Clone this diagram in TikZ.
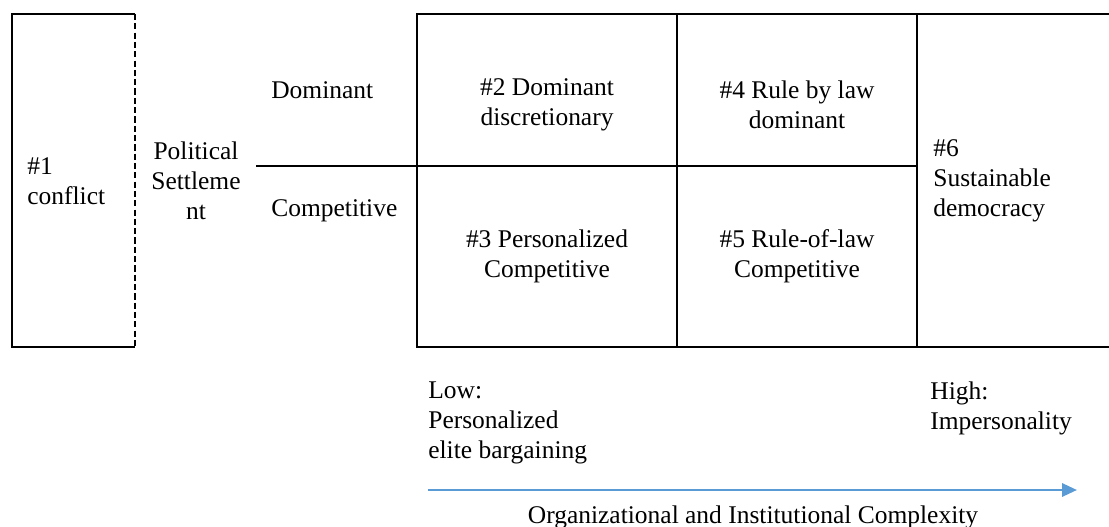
\documentclass[tikz,border=0pt]{standalone}
\usepackage{fontspec}
\setmainfont{Liberation Serif}
\usepackage{xcolor}
\usepackage{tikz}
\usetikzlibrary{arrows.meta,positioning}

\definecolor{axisblue}{RGB}{91,155,213}

\begin{document}
\begin{tikzpicture}[x=0.02cm,y=-0.02cm,line join=miter,
  font=\fontsize{14.5}{17}\selectfont,
  gridline/.style={black,line width=1.1pt},
  cell/.style={inner sep=0pt,align=center},
  lbl/.style={inner sep=0pt,align=left,anchor=west}]

  \useasboundingbox (0,0) rectangle (1109,527);

  %% ---------------------------------------------------------------
  %% conflict box, dashed on its open side
  %% ---------------------------------------------------------------
  \draw[gridline] (135,14) -- (12,14) -- (12,347) -- (135,347);
  \draw[gridline,dash pattern=on 3.5pt off 1.8pt] (135,14) -- (135,347);
  \node[lbl] (conflict) at (27,181) {\#1\\conflict};

  %% ---------------------------------------------------------------
  %% settlement split into dominant / competitive
  %% ---------------------------------------------------------------
  \node[cell] (settle) at (196,181) {Political\\Settleme\\nt};
  \node[lbl] (dom) at (271,90) {Dominant};
  \node[lbl] (comp) at (271,211) {Competitive};
  \draw[gridline] (256,166) -- (417,166);

  %% ---------------------------------------------------------------
  %% the grid of orders (#2 -- #6), open to the right
  %% ---------------------------------------------------------------
  \draw[gridline] (1109,14) -- (417,14) -- (417,347) -- (1109,347);
  \draw[gridline] (677,14) -- (677,347);
  \draw[gridline] (917,14) -- (917,347);
  \draw[gridline] (417,166) -- (917,166);

  \node[cell] (domdisc) at (547,105) {\#2 Dominant\\discretionary};
  \node[cell] (rbldom) at (797,105) {\#4 Rule by law\\dominant};
  \node[cell] (perscomp) at (547,256) {\#3 Personalized\\Competitive};
  \node[cell] (rolcomp) at (797,256) {\#5 Rule-of-law\\Competitive};
  \node[lbl] (demo) at (933,181) {\#6\\Sustainable\\democracy};

  %% ---------------------------------------------------------------
  %% complexity axis
  %% ---------------------------------------------------------------
  \node[lbl] (low) at (428,423) {Low:\\Personalized\\elite bargaining};
  \node[lbl] (high) at (930,408) {High:\\Impersonality};
  \coordinate (axstart) at (428,490);
  \coordinate (axend) at (1077,490);
  \draw[axisblue,line width=1.5pt,-{Triangle[length=8.5pt,width=7.5pt]}] (axstart) -- (axend);
  \node[cell] (axis) at (753,517) {Organizational and Institutional Complexity};

\end{tikzpicture}
\end{document}
